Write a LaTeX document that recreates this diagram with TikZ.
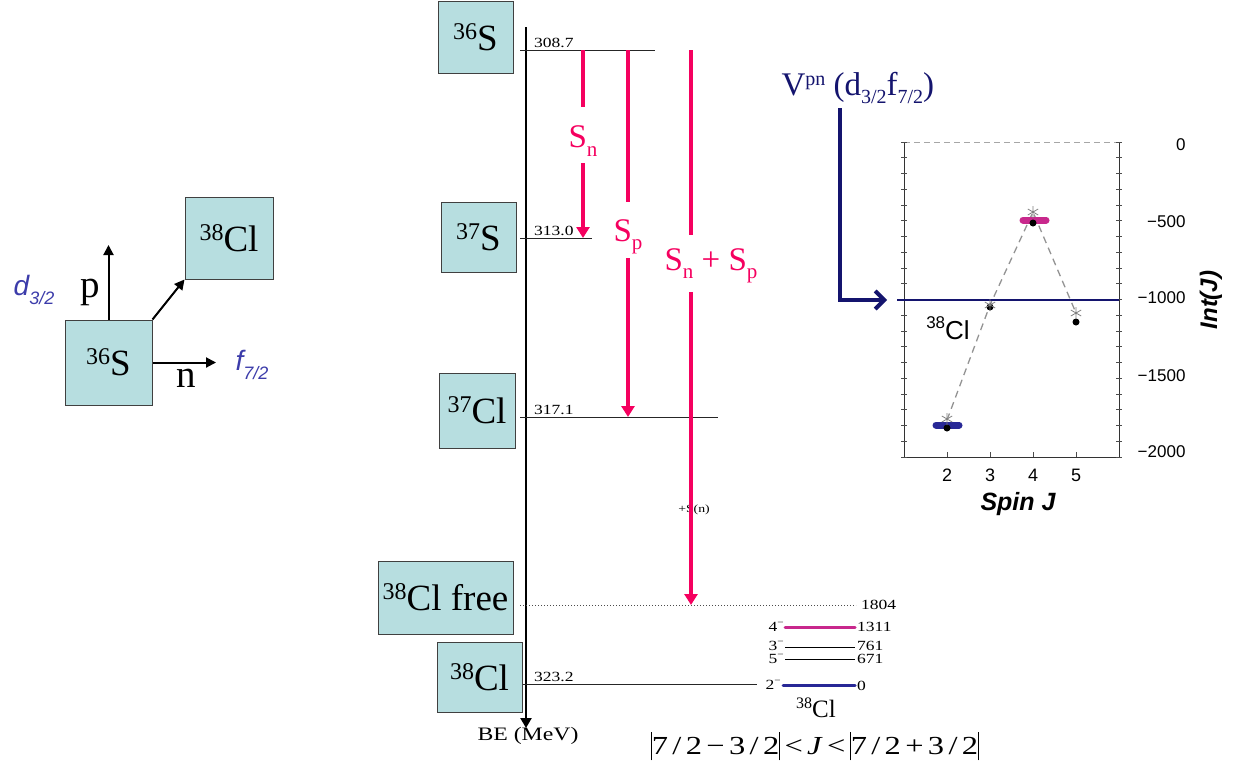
\documentclass[tikz,border=0pt]{standalone}
\usepackage{fontspec}
\setmainfont{Liberation Serif}
\newfontfamily\srs[FakeStretch=1.25]{Liberation Serif}
\newfontfamily\hv{Liberation Sans}
\usetikzlibrary{arrows.meta,plotmarks}
\definecolor{boxfill}{RGB}{183,222,224}
\definecolor{hotred}{RGB}{245,0,95}
\definecolor{navyb}{RGB}{20,20,110}
\definecolor{magb}{RGB}{200,40,140}
\definecolor{blueb}{RGB}{40,40,150}
\definecolor{dblue}{RGB}{60,60,170}
\newcommand\isot[2]{\raisebox{0.3em}{\fontsize{24}{24}\selectfont #1}#2}
\newcommand\sub[1]{\raisebox{-0.25em}{\fontsize{21}{21}\selectfont #1}}
\newcommand\vb{\rule[-0.22em]{0.9pt}{1.1em}}
\newcommand\spin[2]{#1\raisebox{0.45em}{\fontsize{9}{9}\selectfont #2}}
\begin{document}
\begin{tikzpicture}[x=1pt,y=-1pt,
  isobox/.style={draw=black!75, fill=boxfill, line width=1pt, inner sep=0pt,
     font=\fontsize{37}{37}\selectfont},
  lev/.style={line width=0.8pt, black!85},
  levnum/.style={font=\srs\fontsize{14}{14}\selectfont, inner sep=1pt},
  redarr/.style={hotred, line width=4pt},
  redtip/.style={hotred, line width=4pt, -{Triangle[length=11pt,width=13pt]}},
  redlab/.style={hotred, font=\fontsize{33}{33}\selectfont},
  blk/.style={line width=2pt, -{Triangle[length=10pt,width=10pt]}},
  tick/.style={black!70, line width=0.6pt},
  plotnum/.style={font=\hv\fontsize{17}{17}\selectfont, anchor=east},
  bottomnum/.style={font=\hv\fontsize{18}{18}\selectfont}
]
\useasboundingbox (0,0) rectangle (1241,772);

%% ---------- left sketch ----------
\node[isobox, minimum width=87pt, minimum height=85pt] (L36) at (108.5,362.5) {\isot{36}{S}};
\node[isobox, minimum width=88pt, minimum height=82pt] (L38) at (229,238) {\isot{38}{Cl}};
\coordinate (ptop) at (108.5,245);
\coordinate (nend) at (216,362.5);
\draw[blk] (L36.north) -- (ptop);
\draw[blk] (L36.east) -- (nend);
\draw[blk] (L36.north east) -- (L38.south west);
\node[font=\fontsize{39}{39}\selectfont] (plab) at (90,292) {p};
\node[font=\fontsize{39}{39}\selectfont] (nlab) at (186,378) {n};
\node[dblue, font=\hv\itshape\fontsize{28}{28}\selectfont] (dlab) at (34,290) {d\raisebox{-0.3em}{\fontsize{18}{18}\selectfont 3/2}};
\node[dblue, font=\hv\itshape\fontsize{28}{28}\selectfont] (flab) at (252,365) {f\raisebox{-0.3em}{\fontsize{18}{18}\selectfont 7/2}};

%% ---------- level scheme ----------
\coordinate (axtop) at (526,27);
\coordinate (axbot) at (526,728);
\draw[line width=2.4pt, -{Triangle[length=10pt,width=11pt]}] (axtop) -- (axbot);

\draw[lev] (520,50) -- (655,50);
\draw[lev] (520,238) -- (592,238);
\draw[lev] (520,417) -- (718,417);
\draw[black!70, line width=1pt, dotted] (520,605) -- (856,605);
\draw[lev] (522,684) -- (757,684);

\node[levnum, anchor=south west] (v1) at (533,49) {308.7};
\node[levnum, anchor=south west] (v2) at (533,237) {313.0};
\node[levnum, anchor=south west] (v3) at (533,416) {317.1};
\node[levnum, anchor=south west] (v4) at (533,683) {323.2};
\node[font=\srs\fontsize{19}{19}\selectfont] (be) at (528,736) {BE (MeV)};

\node[isobox, minimum width=75pt, minimum height=72pt] (S36) at (475.5,37) {\isot{36}{S}};
\node[isobox, minimum width=75pt, minimum height=70pt] (S37) at (478.5,237) {\isot{37}{S}};
\node[isobox, minimum width=76pt, minimum height=75pt] (Cl37) at (477,410.5) {\isot{37}{Cl}};
\node[isobox, minimum width=135pt, minimum height=73pt] (Clfree) at (445.5,597.5) {\isot{38}{Cl} free};
\node[isobox, minimum width=85pt, minimum height=70pt] (Cl38) at (479.5,677) {\isot{38}{Cl}};

%% red arrows
\node[font=\srs\fontsize{11}{11}\selectfont] (sn2) at (694,510) {+S(n)};
\node[redlab] (snlab) at (583,141) {S\sub{n}};
\node[redlab] (splab) at (628,237) {S\sub{p}};
\node[redlab] (snsplab) at (711,266) {S\sub{n} + S\sub{p}};
\draw[redarr] (583,50) -- (583,107);
\draw[redtip] (583,163) -- (583,238);
\draw[redarr] (628,50) -- (628,202);
\draw[redtip] (628,258) -- (628,417);
\draw[redarr] (691,50) -- (691,235);
\draw[redtip] (691,292) -- (691,605);

%% 38Cl levels
\node[levnum, anchor=west] (e1804) at (860,605) {1804};
\node[levnum, anchor=west] (e1311) at (856,627) {1311};
\node[levnum, anchor=west] (e761) at (856,646) {761};
\node[levnum, anchor=west] (e671) at (856,659) {671};
\node[levnum, anchor=west] (e0) at (856,686) {0};
\node[levnum, anchor=east] (j4) at (785,627) {\spin{4}{−}};
\node[levnum, anchor=east] (j3) at (785,646) {\spin{3}{−}};
\node[levnum, anchor=east] (j5) at (785,659) {\spin{5}{−}};
\node[levnum, anchor=east] (j2) at (782,685) {\spin{2}{−}};
\draw[magb, line width=3pt, line cap=round] (785,627) -- (855,627);
\draw[black, line width=1pt] (785,647) -- (855,647);
\draw[black, line width=1pt] (785,659) -- (855,659);
\draw[blueb, line width=3pt, line cap=round] (783,685) -- (855,685);
\node[font=\fontsize{25}{25}\selectfont] (cl38lab) at (816,708) {\raisebox{0.35em}{\fontsize{16}{16}\selectfont 38}Cl};
\node[font=\srs\fontsize{26}{26}\selectfont] (formula) at (815,746)
  {\vb7\,/\,2\,−\,3\,/\,2\vb\,<\,\textit{J}\,<\,\vb7\,/\,2\,+\,3\,/\,2\vb};

%% ---------- plot ----------
\node[navyb, anchor=west, font=\fontsize{33}{33}\selectfont] (vpn) at (778,88)
  {V\raisebox{0.3em}{\fontsize{20}{20}\selectfont pn} (d\raisebox{-0.25em}{\fontsize{20}{20}\selectfont 3/2}f\raisebox{-0.25em}{\fontsize{20}{20}\selectfont 7/2})};
\coordinate (varrS) at (840,108);
\coordinate (varrE) at (887,300);

\draw[gray!70, dash pattern=on 6pt off 4pt, line width=1pt] (904,142) -- (1119,142);
\draw[black!80, line width=0.8pt] (904,142) -- (904,457) -- (1119,457) -- (1119,142);
\foreach \k in {0,...,20} {
  \pgfmathsetmacro\yy{142+15.75*\k}
  \draw[tick] (901,\yy) -- (907,\yy);
  \draw[tick] (1116,\yy) -- (1122,\yy);
}
\foreach \xx in {947,990,1033,1076} {
  \draw[tick] (\xx,457) -- (\xx,452);
}
\draw[navyb, line width=2.2pt] (897,300) -- (1119,300);
\draw[navyb, line width=4pt, -{Straight Barb[length=9pt,width=18pt]}] (varrS) |- (varrE);

\draw[gray!85, dash pattern=on 7pt off 5pt, line width=1.3pt] (947,420) -- (990,305) -- (1033,212) -- (1076,313);
\draw[magb, line width=7pt, line cap=round] (1023,220) -- (1046,220);
\draw[blueb, line width=7pt, line cap=round] (936,425) -- (959,425);
\foreach \p in {(947,428),(990,307),(1033,223),(1076,322)} {
  \fill[black] \p circle (3.5pt);
}
\draw[gray, line width=0.8pt] plot[only marks, mark=asterisk, mark size=6pt]
  coordinates {(947,419) (990,305) (1033,212) (1076,313)};

\node[plotnum] (t0) at (1189,145) {0};
\node[plotnum] (t500) at (1189,222) {−500};
\node[plotnum] (t1000) at (1189,298) {−1000};
\node[plotnum] (t1500) at (1189,376) {−1500};
\node[plotnum] (t2000) at (1189,452) {−2000};
\node[bottomnum] (b2) at (947,475) {2};
\node[bottomnum] (b3) at (990,475) {3};
\node[bottomnum] (b4) at (1033,475) {4};
\node[bottomnum] (b5) at (1076,475) {5};
\node[font=\hv\bfseries\itshape\fontsize{25}{25}\selectfont] (spinj) at (1018,504) {Spin J};
\node[font=\hv\bfseries\itshape\fontsize{24}{24}\selectfont, rotate=90] (intj) at (1211,300) {Int(J)};
\node[font=\hv\fontsize{26}{26}\selectfont] (pcl) at (948,328) {\raisebox{0.4em}{\fontsize{17}{17}\selectfont 38}Cl};
\end{tikzpicture}
\end{document}
